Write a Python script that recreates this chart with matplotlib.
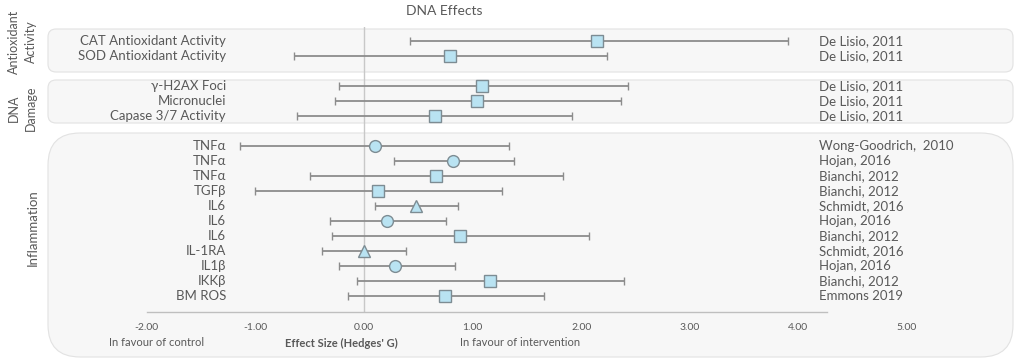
import numpy as np
import matplotlib
matplotlib.use('Agg')
import matplotlib.pyplot as plt
from matplotlib.patches import FancyBboxPatch

plt.rcParams['font.family'] = ['Lato', 'DejaVu Sans']

# outcome rows (top to bottom)
outcomes = ['CAT Antioxidant Activity', 'SOD Antioxidant Activity',
            'γ-H2AX Foci', 'Micronuclei', 'Capase 3/7 Activity',
            'TNFα', 'TNFα', 'TNFα', 'TGFβ', 'IL6', 'IL6', 'IL6',
            'IL-1RA', 'IL1β', 'IKKβ', 'BM ROS']
studies = ['De Lisio, 2011', 'De Lisio, 2011',
           'De Lisio, 2011', 'De Lisio, 2011', 'De Lisio, 2011',
           'Wong-Goodrich,  2010', 'Hojan, 2016', 'Bianchi, 2012', 'Bianchi, 2012',
           'Schmidt, 2016', 'Hojan, 2016', 'Bianchi, 2012', 'Schmidt, 2016',
           'Hojan, 2016', 'Bianchi, 2012', 'Emmons 2019']
effect = [2.15, 0.79, 1.09, 1.04, 0.65,
          0.10, 0.82, 0.66, 0.13, 0.48, 0.21, 0.88, 0.00, 0.29, 1.16, 0.75]
ci_low = [0.42, -0.64, -0.23, -0.27, -0.62,
          -1.14, 0.28, -0.50, -1.00, 0.10, -0.31, -0.29, -0.39, -0.23, -0.06, -0.15]
ci_high = [3.90, 2.24, 2.43, 2.37, 1.92,
           1.34, 1.38, 1.83, 1.27, 0.87, 0.76, 2.07, 0.39, 0.84, 2.39, 1.66]
shapes = ['s', 's', 's', 's', 's',
          'o', 'o', 's', 's', '^', 'o', 's', '^', 'o', 's', 's']
rows = [0, 1, 3, 4, 5, 7, 8, 9, 10, 11, 12, 13, 14, 15, 16, 17]

groups = ['Antioxidant\nActivity', 'DNA\nDamage', 'Inflammation']
xticks = [-2, -1, 0, 1, 2, 3, 4, 5]

txt = '#595959'
line_c = '#8c8c8c'
fill_c = '#b9e3f2'

W, H = 1021, 362
fig = plt.figure(figsize=(W / 100, H / 100), dpi=100)

# background layer in pixel coordinates
bg = fig.add_axes([0, 0, 1, 1])
bg.set_xlim(0, W)
bg.set_ylim(H, 0)
bg.axis('off')
for (x0, y0, x1, y1, r) in [(48, 29, 1013, 72, 8), (48, 80, 1013, 123, 8), (48, 133, 1013, 357, 32)]:
    bg.add_patch(FancyBboxPatch((x0, y0), x1 - x0, y1 - y0,
                                boxstyle='round,pad=0,rounding_size=%d' % r,
                                fc='#f7f7f7', ec='#e2e2e2', lw=0.8))
bg.text(444, 11, 'DNA Effects', ha='center', va='center', fontsize=10, color=txt)
bg.text(22, 42, groups[0], rotation=90, ha='center', va='center', fontsize=9,
        color=txt, linespacing=1.5)
bg.text(22, 108, groups[1], rotation=90, ha='center', va='center', fontsize=9,
        color=txt, linespacing=1.5)
bg.text(33, 228, groups[2], rotation=90, ha='center', va='center', fontsize=9.5, color=txt)
bg.text(157, 343, 'In favour of control', ha='center', va='center', fontsize=8, color=txt)
bg.text(341, 343, "Effect Size (Hedges' G)", ha='center', va='center', fontsize=8,
        color=txt, fontweight='bold')
bg.text(460, 343, 'In favour of intervention', ha='left', va='center', fontsize=8, color=txt)

# forest plot axes
px0, px1 = 146.7, 907.0
py_top, py_bot = 27, 312
ax = fig.add_axes([px0 / W, (H - py_bot) / H, (px1 - px0) / W, (py_bot - py_top) / H])
ax.patch.set_alpha(0)
ax.set_xlim(-2, 5)
ax.set_ylim((py_bot - 41) / 15.0, (py_top - 41) / 15.0)

ax.axvline(0, color='#c8c8c8', lw=1.0, zorder=1)

y = np.array(rows, dtype=float)
e = np.array(effect)
xerr = [e - np.array(ci_low), np.array(ci_high) - e]
ax.errorbar(e, y, xerr=xerr, fmt='none', ecolor=line_c, elinewidth=1.3,
            capsize=3, capthick=1.0, zorder=2)
sizes = {'s': 8, 'o': 8.5, '^': 8.5}
for m in ['s', 'o', '^']:
    idx = [i for i, s in enumerate(shapes) if s == m]
    ax.plot(e[idx], y[idx], m, ms=sizes[m], mfc=fill_c, mec='#7d8c93', mew=1.0,
            ls='none', zorder=3)

for i, r in enumerate(rows):
    ax.text(226, 41 + 15 * r, outcomes[i], transform=bg.transData, ha='right',
            va='center', fontsize=9.5, color=txt)
    ax.text(819, 41 + 15 * r, studies[i], transform=bg.transData, ha='left',
            va='center', fontsize=9.5, color=txt)

for s in ['top', 'right', 'left']:
    ax.spines[s].set_visible(False)
ax.spines['bottom'].set_bounds(-2, 4.26)
ax.spines['bottom'].set_color('#bfbfbf')
ax.spines['bottom'].set_linewidth(1.0)
ax.set_yticks([])
ax.set_xticks(xticks)
ax.set_xticklabels(['%.2f' % t for t in xticks])
ax.tick_params(axis='x', length=0, pad=8, labelsize=7.5, labelcolor=txt)

fig.savefig('out.png', dpi=100)
